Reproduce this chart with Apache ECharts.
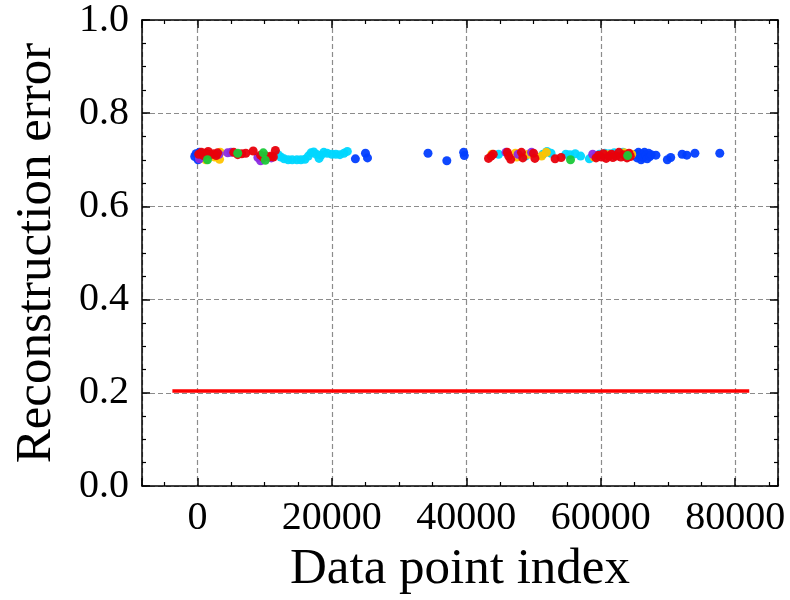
<!DOCTYPE html>
<html>
<head>
<meta charset="utf-8">
<script src="https://cdn.jsdelivr.net/npm/echarts@6/dist/echarts.min.js"></script>
<style>
html, body { margin: 0; padding: 0; background: #fff; }
#chart { width: 790px; height: 600px; }
</style>
</head>
<body>
<div id="chart"></div>
<script>
// axis extents and threshold line
const xRange = [-8240, 86360];
const yRange = [0, 1];
const threshold = 0.204;
const thresholdSpan = [-3720, 82080];

// scatter points per cluster [index, error]
const bluePts = [
    [-400, 0.707], [-200, 0.713], [100, 0.700], [300, 0.716], [500, 0.704], [800, 0.712],
    [23500, 0.702], [25000, 0.714], [25300, 0.704],
    [34300, 0.714], [37100, 0.698], [39600, 0.716], [39700, 0.709],
    [65200, 0.712], [65400, 0.704], [65600, 0.716], [65800, 0.708], [66000, 0.700], [66100, 0.713],
    [66300, 0.705], [66500, 0.716], [66700, 0.709], [66900, 0.702], [67100, 0.714], [67300, 0.707],
    [67500, 0.711], [68200, 0.710],
    [69900, 0.700], [70400, 0.705], [72100, 0.712], [72800, 0.710], [74000, 0.714], [77700, 0.714]
];
const cyanPts = [
    [12000, 0.711], [12400, 0.706], [12900, 0.702], [13500, 0.700], [14100, 0.700], [14800, 0.700],
    [15400, 0.700], [16000, 0.701], [16500, 0.708], [16900, 0.715], [17300, 0.717], [17700, 0.712],
    [18100, 0.703], [18400, 0.710], [18800, 0.716], [19300, 0.714], [20000, 0.712], [20600, 0.712],
    [21200, 0.711], [21800, 0.714], [22300, 0.718],
    [44800, 0.712], [48800, 0.708], [51400, 0.712], [52000, 0.718], [52600, 0.714], [54800, 0.712],
    [55400, 0.711], [56200, 0.713], [57000, 0.708], [58300, 0.702],
    [59800, 0.712], [60600, 0.714], [61300, 0.713], [62000, 0.715], [62600, 0.714], [63300, 0.716]
];
const yellowPts = [
    [1250, 0.700], [1800, 0.712], [2600, 0.706], [3300, 0.701], [3400, 0.716],
    [43800, 0.712], [47300, 0.714], [47500, 0.706], [49200, 0.712], [51200, 0.708], [51900, 0.716],
    [59000, 0.706], [61000, 0.711], [63500, 0.715], [64600, 0.712]
];
const purplePts = [
    [300, 0.702], [3200, 0.712], [4500, 0.715], [5000, 0.716], [9000, 0.705], [9400, 0.698], [11000, 0.704],
    [45900, 0.716], [47700, 0.712], [49700, 0.716], [58800, 0.712], [59400, 0.709], [62000, 0.710]
];
const redPts = [
    [200, 0.712], [600, 0.716], [900, 0.709], [1300, 0.714], [1600, 0.718], [2000, 0.711], [2400, 0.713],
    [2800, 0.709], [3000, 0.715],
    [5400, 0.716], [6000, 0.711], [6600, 0.713], [7200, 0.714], [8300, 0.719], [9400, 0.710], [9800, 0.705],
    [10200, 0.708], [10600, 0.706], [11000, 0.708], [11300, 0.706], [11600, 0.720],
    [43300, 0.703], [43700, 0.708], [44000, 0.712], [46100, 0.716], [46300, 0.708], [46600, 0.701],
    [48200, 0.716], [48400, 0.704], [50000, 0.714], [50200, 0.703], [53200, 0.702], [54100, 0.705],
    [59300, 0.704], [59700, 0.710], [60100, 0.706], [60400, 0.713], [60800, 0.703], [61200, 0.708],
    [61600, 0.712], [61800, 0.705], [62300, 0.708], [62700, 0.716], [63000, 0.706], [63400, 0.711],
    [63900, 0.704], [64200, 0.714], [64400, 0.707]
];
const greenPts = [
    [1500, 0.700], [6000, 0.714], [9800, 0.715], [10100, 0.699], [55500, 0.700], [64000, 0.709]
];

const serif = 'Liberation Serif';
const black = '#000';

function scatter(data, color) {
    return {
        type: 'scatter',
        data: data,
        symbolSize: 9,
        itemStyle: { color: color, opacity: 0.95 },
        silent: true
    };
}

// shared look for box axes (ticks inward, minor ticks)
function boxAxis(extra) {
    let base = {
        type: 'value',
        axisLine: { show: true, onZero: false, lineStyle: { color: black, width: 1.5 } },
        axisTick: { show: true, inside: true, length: 8, lineStyle: { color: black, width: 1.5 } },
        minorTick: { show: true, splitNumber: 4, length: 4, lineStyle: { color: black, width: 1.2 } },
        splitLine: { show: false },
        axisLabel: { show: false }
    };
    return Object.assign(base, extra);
}

const gridLine = { show: true, lineStyle: { color: '#8c8c8c', type: [5, 3], width: 1.2 } };

let option = {
    animation: false,
    backgroundColor: '#fff',
    grid: { left: 142, right: 12, top: 18, bottom: 113 },
    xAxis: [
        boxAxis({
            min: xRange[0], max: xRange[1], position: 'bottom',
            name: 'Data point index', nameLocation: 'middle', nameGap: 58,
            nameTextStyle: { fontFamily: serif, fontSize: 51, color: black },
            axisLabel: {
                show: true, fontFamily: serif, fontSize: 40, color: black, margin: 12,
                showMinLabel: false, showMaxLabel: false,
                formatter: v => String(v)
            },
            splitLine: gridLine
        }),
        boxAxis({ min: xRange[0], max: xRange[1], position: 'top' })
    ],
    yAxis: [
        boxAxis({
            min: yRange[0], max: yRange[1], interval: 0.2, position: 'left',
            name: 'Reconstruction error', nameLocation: 'middle', nameGap: 80,
            nameTextStyle: { fontFamily: serif, fontSize: 51, color: black },
            axisLabel: {
                show: true, fontFamily: serif, fontSize: 40, color: black, margin: 13,
                formatter: v => v.toFixed(1)
            },
            splitLine: gridLine
        }),
        boxAxis({ min: yRange[0], max: yRange[1], interval: 0.2, position: 'right' })
    ],
    series: [
        scatter(bluePts, '#023eff'),
        scatter(cyanPts, '#00d7ff'),
        scatter(yellowPts, '#ffc400'),
        scatter(purplePts, '#8b2be2'),
        scatter(redPts, '#e8000b'),
        scatter(greenPts, '#1ac938'),
        {
            type: 'line',
            data: [[thresholdSpan[0], threshold], [thresholdSpan[1], threshold]],
            symbol: 'none',
            lineStyle: { color: '#ff0000', width: 3.5 },
            silent: true
        }
    ]
};

let myChart = echarts.init(document.querySelector('#chart'));
myChart.setOption(option);
</script>
</body>
</html>
